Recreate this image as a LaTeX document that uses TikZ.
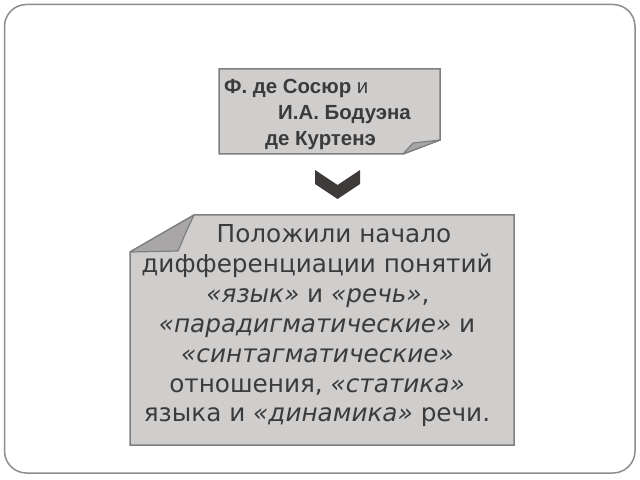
\documentclass[tikz,border=0pt]{standalone}
\usepackage{fontspec}
\newfontfamily\arialf{Liberation Sans}
\newfontfamily\dejavu{DejaVu Sans}
\definecolor{boxfill}{HTML}{D0CDCD}
\definecolor{foldfill}{HTML}{A8A6A6}
\definecolor{boxline}{HTML}{7F7F7F}
\definecolor{txt}{HTML}{3B3B3B}
\definecolor{frameline}{HTML}{8C8C8C}
\definecolor{chev}{HTML}{3F3A3A}
\tikzset{
  note/.style={fill=boxfill, draw=boxline, line width=1.5bp, line join=miter},
  fold/.style={fill=foldfill, draw=boxline, line width=1.2bp, line join=round},
  toptext/.style={inner sep=0pt, anchor=base west, text=txt, font=\arialf\fontsize{20.5}{24}\selectfont},
  bottext/.style={inner sep=0pt, anchor=base, text=txt, font=\dejavu\fontsize{24.8}{28}\selectfont},
}
\begin{document}
\begin{tikzpicture}[x=1bp, y=-1bp]
\useasboundingbox (0,0) rectangle (640,480);
\fill[white] (0,0) rectangle (640,480);
% outer frame
\draw[frameline, line width=1.5bp, rounded corners=22bp] (4.5,4.5) rectangle (635,473);
% top note
\draw[note] (219,69) -- (440,69) -- (440,140) -- (403,154) -- (219,154) -- cycle;
\draw[fold] (403,154) -- (413,143) -- (440,140) -- cycle;
\node[toptext] (t1) at (224,93.5) {\textbf{Ф. де Сосюр} и};
\node[toptext] (t2) at (278,120) {\textbf{И.А. Бодуэна}};
\node[toptext] (t3) at (265,146) {\textbf{де Куртенэ}};
% chevron
\fill[chev] (315,170) -- (337.5,185) -- (360,170) -- (360,184) -- (337.5,199) -- (315,184) -- cycle;
% bottom note
\draw[note] (194,215) -- (514,215) -- (514,445) -- (130,445) -- (130,252) -- cycle;
\draw[fold] (194,215) .. controls (186,232) .. (178,251) -- (130,252) -- cycle;
\node[bottext] (b1) at (334,243) {Положили начало};
\node[bottext] (b2) at (317,272.8) {дифференциации понятий};
\node[bottext] (b3) at (318,302.6) {\textit{«язык»} и \textit{«речь»},};
\node[bottext] (b4) at (317,332.4) {\textit{«парадигматические»} и};
\node[bottext] (b5) at (317.5,362.2) {\textit{«синтагматические»}};
\node[bottext] (b6) at (317,392) {отношения, \textit{«статика»}};
\node[bottext] (b7) at (317,421.8) {языка и \textit{«динамика»} речи.};
\end{tikzpicture}
\end{document}
